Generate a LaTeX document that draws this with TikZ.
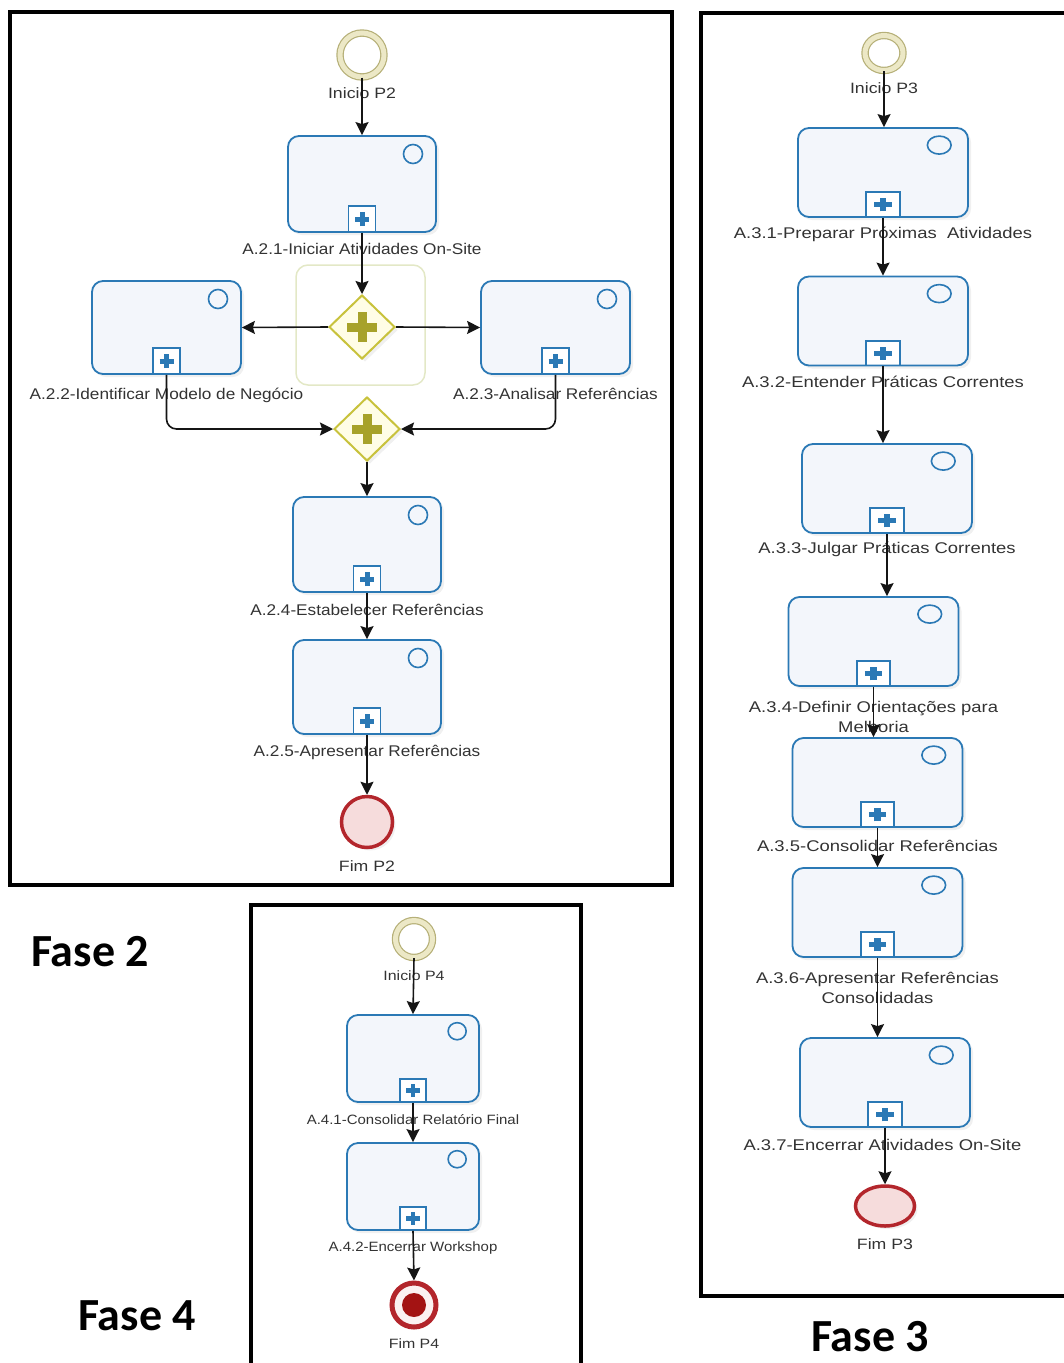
\documentclass[tikz,border=0pt]{standalone}
\usepackage{fontspec}
\setmainfont{Liberation Sans}
\newfontfamily\faseFont{Carlito}
\newfontfamily\rotFont[FakeStretch=1.11]{Liberation Sans}
\newfontfamily\largaFont[FakeStretch=1.19]{Liberation Sans}
\newfontfamily\evFont[FakeStretch=1.18]{Liberation Sans}
\usetikzlibrary{positioning,arrows.meta,shapes.geometric,shadows}
\definecolor{TaskBlue}{HTML}{2B79B5}
\definecolor{TaskFill}{HTML}{F3F6FB}
\definecolor{GateLine}{HTML}{C8C23C}
\definecolor{GateFill}{HTML}{FFFDE6}
\definecolor{GatePlus}{HTML}{A7A22A}
\definecolor{GroupLine}{HTML}{E3E8C6}
\definecolor{StartLine}{HTML}{B6B078}
\definecolor{StartRing}{HTML}{ECE8C6}
\definecolor{EndLine}{HTML}{B3262C}
\definecolor{EndFill}{HTML}{F6DCDC}
\definecolor{EndCore}{HTML}{A31313}
\definecolor{FlowDark}{HTML}{151515}
\definecolor{TextGray}{HTML}{333333}

\tikzset{
  tarefa/.style n args={4}{draw=TaskBlue, line width=1.8, fill=TaskFill, rounded corners=11,
    minimum width=#1, minimum height=#2, inner sep=0pt,
    drop shadow={opacity=0.12, shadow xshift=3pt, shadow yshift=-3pt},
    path picture={
      \draw[TaskBlue, line width=1.6, sharp corners] ([shift={(-23*#3,18*#4)}]path picture bounding box.north east) ellipse [x radius=9.5*#3, y radius=9.5*#4];
      \draw[TaskBlue, line width=1.8, fill=white, sharp corners] ([shift={(-13.5*#3,0)}]path picture bounding box.south) rectangle ++(27*#3,-26*#4);
      \draw[TaskBlue, line width=5*#4] ([shift={(-7*#3,-13*#4)}]path picture bounding box.south) -- ++(14*#3,0);
      \draw[TaskBlue, line width=5*#3] ([shift={(0,-6*#4)}]path picture bounding box.south) -- ++(0,-14*#4);
    }},
  gateway/.style={diamond, draw=GateLine, line width=2, fill=GateFill, minimum width=66, minimum height=64, inner sep=0pt,
    drop shadow={opacity=0.12, shadow xshift=3pt, shadow yshift=-3pt},
    path picture={
      \draw[GatePlus, line width=9] ([xshift=-15pt]path picture bounding box.center) -- ([xshift=15pt]path picture bounding box.center);
      \draw[GatePlus, line width=9] ([yshift=-15pt]path picture bounding box.center) -- ([yshift=15pt]path picture bounding box.center);
    }},
  inicio/.style={ellipse, draw=StartLine, line width=1.2, double=StartRing, double distance=5, fill=white, inner sep=0pt},
  fim/.style={ellipse, draw=EndLine, line width=3.5, fill=EndFill, inner sep=0pt,
    drop shadow={opacity=0.12, shadow xshift=3pt, shadow yshift=-3pt}},
  fimterm/.style={ellipse, draw=EndLine, line width=5, fill=EndFill!40, inner sep=0pt,
    path picture={\fill[EndCore] (path picture bounding box.center) circle (12);}},
  rotulo/.style={font=\rotFont\fontsize{15.5}{17}\selectfont, text=TextGray, inner sep=0pt, align=center},
  rotulo3/.style={font=\largaFont\fontsize{15.5}{20}\selectfont, text=TextGray, inner sep=0pt, align=center},
  rotulo4/.style={font=\rotFont\fontsize{13.5}{15}\selectfont, text=TextGray, inner sep=0pt, align=center},
  rotuloev/.style={font=\evFont\fontsize{15}{17}\selectfont, text=TextGray, inner sep=0pt},
  fluxo/.style={draw=FlowDark, line width=1.6, -{Stealth[length=13pt, width=13pt, inset=2pt]}},
  quadro/.style={draw=black, line width=4},
  grupo/.style={draw=GroupLine, line width=1.5, rounded corners=12},
  fase/.style={font=\faseFont\bfseries\fontsize{46}{50}\selectfont, inner sep=0pt}
}

\begin{document}
\begin{tikzpicture}[x=1pt, y=-1pt]
\useasboundingbox (0,0) rectangle (1064,1363);

% Fase 2
\draw[quadro] (10,12) rectangle (672,885);
\draw[grupo] (296,265) rectangle (425,385);
\node[inicio, minimum width=44, minimum height=44] (st2) at (362,55) {};
\node[rotuloev, below=10pt of st2] (st2-l) {Inicio P2};
\node[tarefa={148}{96}{1}{1}] (t21) at (362,184) {};
\node[rotulo, below=10pt of t21] (t21-l) {A.2.1-Iniciar Atividades On-Site};
\node[gateway] (g1) at (362,327) {};
\node[tarefa={149}{93}{1}{1}] (t22) at (166.5,327.5) {};
\node[rotulo, below=13pt of t22] (t22-l) {A.2.2-Identificar Modelo de Negócio};
\node[tarefa={149}{93}{1}{1}] (t23) at (555.5,327.5) {};
\node[rotulo, below=13pt of t23] (t23-l) {A.2.3-Analisar Referências};
\node[gateway] (g2) at (367,429) {};
\node[tarefa={148}{95}{1}{1}] (t24) at (367,544.5) {};
\node[rotulo, below=11pt of t24] (t24-l) {A.2.4-Estabelecer Referências};
\node[tarefa={148}{94}{1}{1}] (t25) at (367,687) {};
\node[rotulo, below=10pt of t25] (t25-l) {A.2.5-Apresentar Referências};
\node[fim, minimum width=51, minimum height=51] (en2) at (367,822) {};
\node[rotuloev, below=11pt of en2] (en2-l) {Fim P2};

\draw[fluxo] (st2.south) -- (t21.north);
\draw[fluxo] (t21.south) -- (g1.north);
\draw[fluxo] (g1.west) -- (t22.east);
\draw[fluxo] (g1.east) -- (t23.west);
\draw[fluxo, rounded corners=10] (t22.south) |- (g2.west);
\draw[fluxo, rounded corners=10] (t23.south) |- (g2.east);
\draw[fluxo] (g2.south) -- (t24.north);
\draw[fluxo] (t24.south) -- (t25.north);
\draw[fluxo] (t25.south) -- (en2.north);

% Fase 3
\draw[quadro] (701,13) rectangle (1080,1296);
\node[inicio, minimum width=38, minimum height=35] (st3) at (884,53) {};
\node[rotuloev, below=11pt of st3] (st3-l) {Inicio P3};
\foreach \n/\x/\y/\dist/\txt in {
  t31/883/172.5/9/{A.3.1-Preparar Próximas\ \ Atividades},
  t32/883/321/9/{A.3.2-Entender Práticas Correntes},
  t33/887/488.5/8/{A.3.3-Julgar Práticas Correntes},
  t34/873.5/641.5/14/{A.3.4-Definir Orientações para\\Melhoria},
  t35/877.5/782.5/12/{A.3.5-Consolidar Referências},
  t36/877.5/912.5/14/{A.3.6-Apresentar Referências\\Consolidadas},
  t37/885/1082.5/11/{A.3.7-Encerrar Atividades On-Site}
  }{
  \node[tarefa={170}{89}{1.25}{0.95}] (\n) at (\x,\y) {};
  \node[rotulo3, below=\dist pt of \n] (\n-l) {\txt};
  }
\node[fim, minimum width=59, minimum height=40] (en3) at (885,1206) {};
\node[rotuloev, below=11pt of en3] (en3-l) {Fim P3};
\foreach \a/\b in {st3/t31, t31/t32, t32/t33, t33/t34, t34/t35, t35/t36, t36/t37, t37/en3}
  \draw[fluxo] (\a.south) -- (\a.south |- \b.north);

% Fase 4
\draw[quadro] (251,905) rectangle (581,1380);
\node[inicio, minimum width=37, minimum height=37] (st4) at (414,939) {};
\node[rotuloev, font=\evFont\fontsize{13.5}{15}\selectfont, below=12pt of st4] (st4-l) {Inicio P4};
\node[tarefa={132}{87}{0.95}{0.9}] (t41) at (413,1058.5) {};
\node[rotulo4, below=11pt of t41] (t41-l) {A.4.1-Consolidar Relatório Final};
\node[tarefa={132}{87}{0.95}{0.9}] (t42) at (413,1186.5) {};
\node[rotulo4, below=11pt of t42] (t42-l) {A.4.2-Encerrar Workshop};
\node[fimterm, minimum width=44, minimum height=44] (en4) at (414,1305) {};
\node[rotuloev, font=\evFont\fontsize{13.5}{15}\selectfont, below=9pt of en4] (en4-l) {Fim P4};
\draw[fluxo] (st4.south) -- (t41.north);
\draw[fluxo] (t41.south) -- (t42.north);
\draw[fluxo] (t42.south) -- (en4.north);

\node[fase] (fase2) at (90,952) {Fase 2};
\node[fase] (fase4) at (137,1316) {Fase 4};
\node[fase] (fase3) at (870,1337) {Fase 3};
\end{tikzpicture}
\end{document}
